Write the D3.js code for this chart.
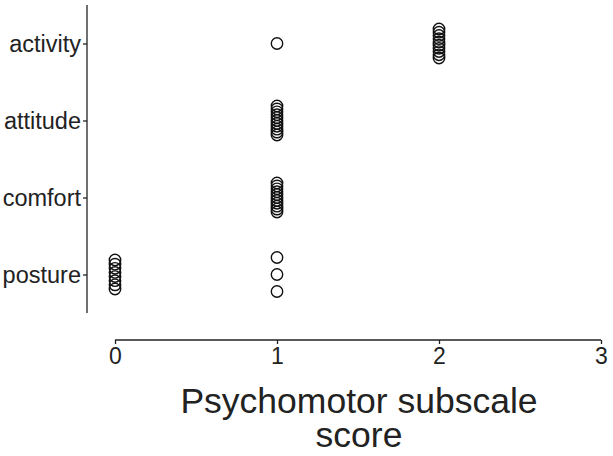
<!DOCTYPE html>
<html>
<head>
	<script src="https://d3js.org/d3.v7.min.js"></script>
	<style type="text/css">
		body { margin:0; background:#fff; }
		text { font-family:"Liberation Sans", Arial, sans-serif; fill:#222; }
	</style>
</head>
<body>
<script>
	// categories, top to bottom
	var categories = ["activity", "attitude", "comfort", "posture"];
	// subscale score of each subject, per category
	var activityScores = [1, 2, 2, 2, 2, 2, 2, 2, 2, 2, 2];
	var attitudeScores = [1, 1, 1, 1, 1, 1, 1, 1, 1, 1, 1];
	var comfortScores  = [1, 1, 1, 1, 1, 1, 1, 1, 1, 1, 1];
	var postureScores  = [0, 0, 0, 0, 0, 0, 0, 0, 1, 1, 1];
	var xTicks = [0, 1, 2, 3];
	var xTitle = ["Psychomotor subscale", "score"];

	var allScores = [activityScores, attitudeScores, comfortScores, postureScores];

	var svg = d3.select("body").append("svg")
		.attr("width", 613)
		.attr("height", 456);

	var xScale = d3.scaleLinear().domain([0, 3]).range([115, 601]);
	var yScale = d3.scalePoint().domain(categories).range([5, 313]).padding(0.5);

	// y axis
	var yAxis = d3.axisLeft(yScale).tickSize(4).tickPadding(2);
	var gy = svg.append("g")
		.attr("transform", "translate(87,0)")
		.call(yAxis);
	gy.select(".domain").attr("d", "M0,5V313").attr("stroke", "#222").attr("stroke-width", 1.3);
	gy.selectAll(".tick line").attr("stroke", "#222").attr("stroke-width", 1.3);
	gy.selectAll(".tick text").style("font-size", "23.5px").attr("font-family", null).attr("dy", "0.35em");

	// x axis
	var xAxis = d3.axisBottom(xScale).tickValues(xTicks).tickFormat(d3.format("d")).tickSize(4).tickPadding(4);
	var gx = svg.append("g")
		.attr("transform", "translate(0,340)")
		.call(xAxis);
	gx.select(".domain").attr("d", "M115,0H601").attr("stroke", "#222").attr("stroke-width", 1.3);
	gx.selectAll(".tick line").attr("stroke", "#222").attr("stroke-width", 1.3);
	gx.selectAll(".tick text").style("font-size", "23px").attr("font-family", null);

	// axis title, two lines
	svg.append("g").selectAll("text")
		.data(xTitle)
		.join("text")
		.attr("x", 359)
		.attr("y", function(d, i) { return 413 + i * 34; })
		.attr("text-anchor", "middle")
		.style("font-size", "35.5px")
		.text(function(d) { return d; });

	// points: each (category, score) group spread evenly around the category
	var points = [];
	categories.forEach(function(c, ci) {
		var groups = d3.group(allScores[ci], function(d) { return d; });
		groups.forEach(function(vals, score) {
			var n = vals.length;
			var step = n < 5 ? 17 : 29 / (n - 1);
			vals.forEach(function(v, i) {
				points.push({cat: c, score: score, off: (i - (n - 1) / 2) * step});
			});
		});
	});

	svg.append("g").selectAll("circle")
		.data(points)
		.join("circle")
		.attr("cx", function(d) { return xScale(d.score); })
		.attr("cy", function(d) { return yScale(d.cat) + d.off; })
		.attr("r", 5.7)
		.attr("fill", "none")
		.attr("stroke", "#111")
		.attr("stroke-width", 1.4);
</script>
</body>
</html>
